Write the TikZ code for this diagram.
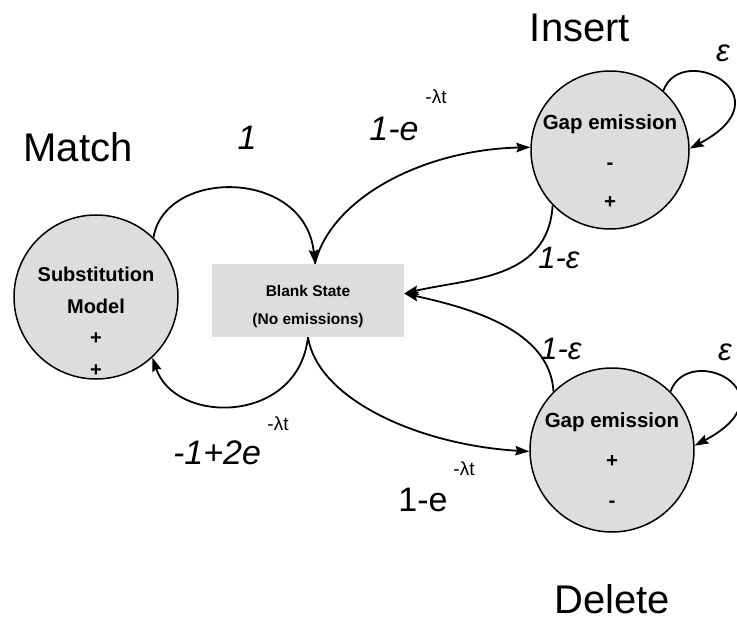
\documentclass[tikz,border=0pt]{standalone}
\usepackage{fontspec}
\setmainfont{Liberation Sans}
\usetikzlibrary{arrows.meta}
\definecolor{stategray}{RGB}{220,221,222}
\begin{document}
\begin{tikzpicture}[x=1pt,y=-1pt,
  statecirc/.style={circle,draw=black,line width=1.5pt,fill=stategray,inner sep=0pt},
  statetxt/.style={align=center,font=\fontsize{20}{31.5}\selectfont\bfseries,inner sep=0pt},
  title/.style={font=\fontsize{40}{44}\selectfont,inner sep=0pt,text depth=0pt,anchor=base},
  lab/.style={font=\fontsize{34}{36}\selectfont\itshape,inner sep=0pt},
  labup/.style={font=\fontsize{34}{36}\selectfont,inner sep=0pt},
  suplab/.style={font=\fontsize{19}{20}\selectfont,inner sep=0pt},
  conn/.style={line width=1.8pt,-{Stealth[length=14pt,width=9.5pt,inset=2pt]}}]
\useasboundingbox (0,0) rectangle (737,623);

% states
\node[statecirc,minimum size=164pt] (match) at (96,297) {};
\node[statecirc,minimum size=158pt] (ins) at (610,150) {};
\node[statecirc,minimum size=164pt] (del) at (612,450) {};
\node[fill=stategray,minimum width=192pt,minimum height=73pt,inner sep=0pt] (blank) at (308,300.5) {};

\node[statetxt] (matchtxt) at (96,322) {Substitution\\Model\\+\\+};
\node[statetxt,font=\fontsize{20.5}{39.5}\selectfont\bfseries] (instxt) at (610,162) {Gap emission\\-\\+};
\node[statetxt,font=\fontsize{20.5}{40}\selectfont\bfseries] (deltxt) at (612,460) {Gap emission\\+\\-};
\node[statetxt,font=\fontsize{15.5}{28}\selectfont\bfseries] (blanktxt) at (308,306) {Blank State\\(No emissions)};

% titles
\node[title] (tmatch) at (78,162) {Match};
\node[title] (tins) at (580,42) {Insert};
\node[title] (tdel) at (612,613) {Delete};

% attachment points on the blank state
\coordinate (btop) at ([xshift=7pt]blank.north);
\coordinate (bright) at ([yshift=7pt]blank.east);

% connectors
\draw[conn] (match.46) .. controls (165,168) and (305,168) .. (btop);
\draw[conn] (btop) .. controls (330,200) and (420,150) .. (ins.178);
\draw[conn] (ins.224) .. controls (548,280) and (470,278) .. (bright);
\draw[conn] (del.135) .. controls (550,330) and (470,308) .. (bright);
\draw[conn] (blank.south) .. controls (298,425) and (175,425) .. (match.313);
\draw[conn] (blank.south) .. controls (318,400) and (420,445) .. (del.181);
\draw[conn] (ins.48) .. controls +(18,-50) and +(100,-53) .. (ins.1);
\draw[conn] (del.45) .. controls +(18,-50) and +(100,-53) .. (del.3);

% labels
\node[lab] (l1) at (247,138) {1};
\node[lab] (l2) at (394,129) {1-e};
\node[suplab] (l2s) at (436,97) {-λt};
\node[lab,font=\fontsize{31}{33}\selectfont\itshape] (l3) at (559,258) {1-ε};
\node[lab,font=\fontsize{31}{33}\selectfont\itshape] (l4) at (561,349) {1-ε};
\node[lab,font=\fontsize{31}{33}\selectfont\itshape] (l5) at (723,53) {ε};
\node[lab,font=\fontsize{31}{33}\selectfont\itshape] (l6) at (725,352) {ε};
\node[lab] (l7) at (217,453) {-1+2e};
\node[suplab] (l7s) at (278,424) {-λt};
\node[labup] (l8) at (423,500) {1-e};
\node[suplab] (l8s) at (464,469) {-λt};
\end{tikzpicture}
\end{document}
